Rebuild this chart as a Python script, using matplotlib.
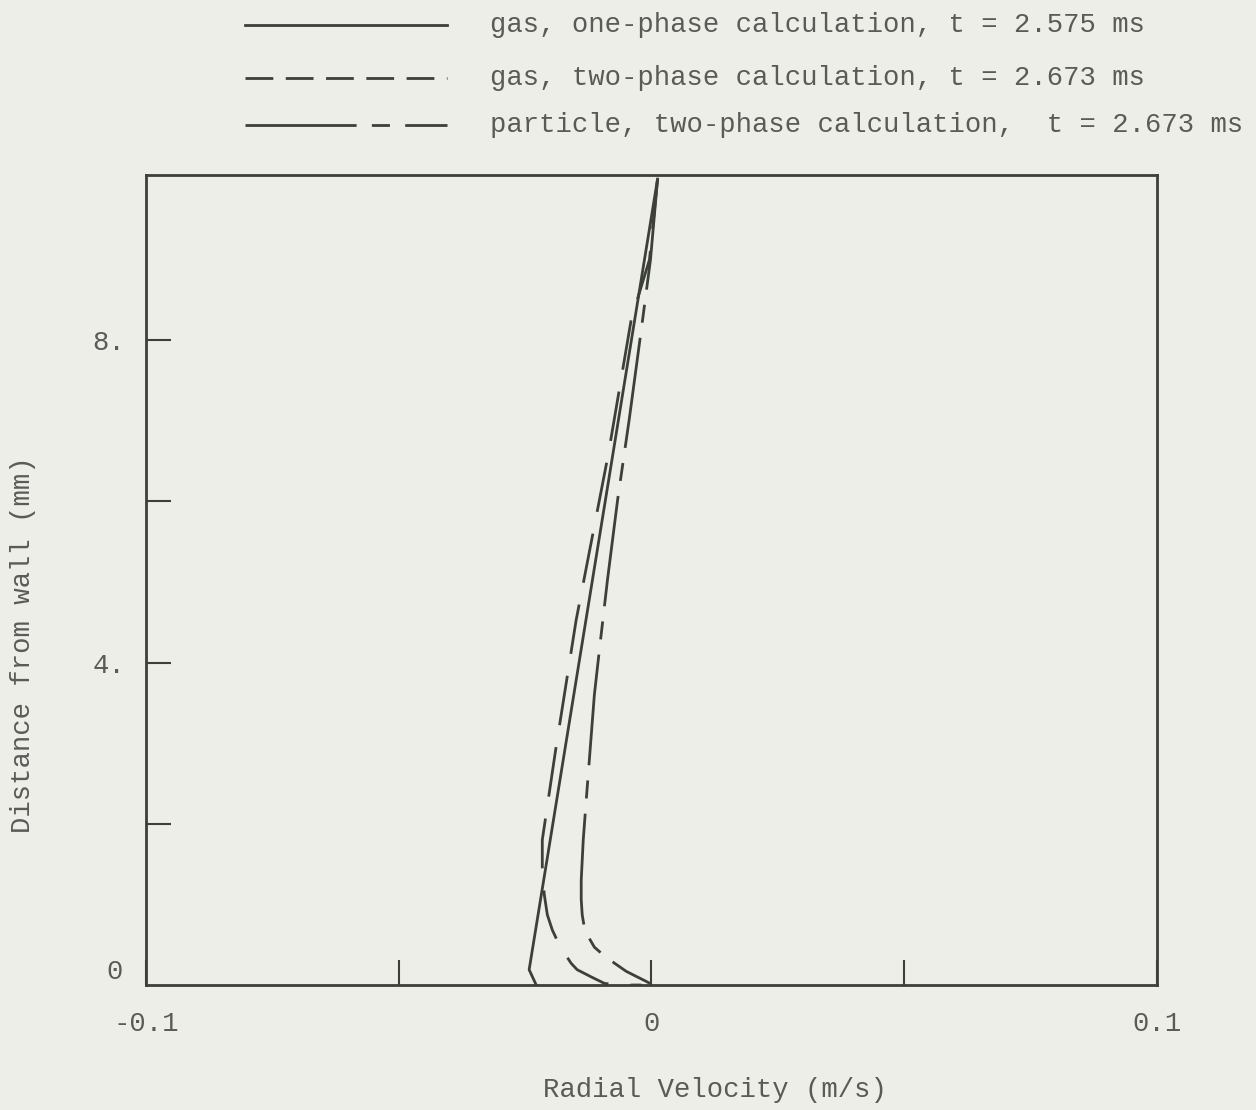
import numpy as np
import matplotlib
matplotlib.use("Agg")
import matplotlib.pyplot as plt
from matplotlib.lines import Line2D

# values (radial velocity m/s, distance from wall mm)
gas_one_v = [0.0012, -0.0242, -0.0228]
gas_one_y = [10.0, 0.19, 0.0]

gas_two_v = [0.0012, -0.0004, -0.0040, -0.0085, -0.0149, -0.0190, -0.0216, -0.0216,
             -0.0212, -0.0206, -0.0196, -0.0181, -0.0159, -0.0147, -0.0119, -0.0093,
             -0.0063, -0.0020]
gas_two_y = [10.0, 9.0, 8.26, 6.60, 4.53, 2.90, 1.80, 1.43,
             1.12, 0.87, 0.68, 0.48, 0.27, 0.19, 0.10, 0.02,
             0.0, 0.0]

part_v = [0.0012, -0.0002, -0.0020, -0.0044, -0.0067, -0.0087, -0.0103, -0.0113,
          -0.0129, -0.0135, -0.0139, -0.0139, -0.0137, -0.0133, -0.0125, -0.0113,
          -0.0093, -0.0073, -0.0050, -0.0028, -0.0012, 0.0]
part_y = [10.0, 9.0, 8.14, 7.02, 6.02, 5.03, 4.16, 3.60,
          2.30, 1.80, 1.30, 1.06, 0.87, 0.72, 0.60, 0.47,
          0.36, 0.27, 0.17, 0.10, 0.05, 0.01]

legend_labels = ["gas, one-phase calculation, t = 2.575 ms",
                 "gas, two-phase calculation, t = 2.673 ms",
                 "particle, two-phase calculation,  t = 2.673 ms"]

bg = "#edeee7"
ink = "#3c3f3a"
txt = "#5a5b58"
plt.rcParams["font.family"] = ["Liberation Mono", "DejaVu Sans Mono"]
plt.rcParams["font.size"] = 19.6
plt.rcParams["lines.scale_dashes"] = False

fig = plt.figure(figsize=(12.56, 11.10), dpi=100, facecolor=bg)
ax = fig.add_axes([0.1162, 0.1126, 0.805, 0.7297], facecolor=bg)

dash_gas = (0, (36, 16))
dash_part = (0, (80, 11, 13, 11))
lw = 2.0

ax.plot(gas_one_v, gas_one_y, color=ink, lw=lw)
ax.plot(gas_two_v, gas_two_y, color=ink, lw=lw, linestyle=dash_gas)
ax.plot(part_v, part_y, color=ink, lw=lw, linestyle=dash_part)

ax.set_xlim(-0.1, 0.1)
ax.set_ylim(0, 10.05)

ax.set_xticks([-0.1, 0, 0.1], ["-0.1", "0", "0.1"])
ax.set_xticks([-0.05, 0.05], minor=True)
ax.set_yticks([2, 4, 6, 8], ["", "4.", "", "8."])
ax.tick_params(axis="both", which="both", direction="in", length=18, width=1.5,
               color=ink, labelcolor=txt)
ax.tick_params(axis="x", pad=19)
ax.tick_params(axis="y", pad=15)
# the "0" on the y axis sits a little above the corner
ax.text(-0.1045, 0.16, "0", ha="right", va="center", color=txt)

for s in ax.spines.values():
    s.set_linewidth(2.0)
    s.set_color(ink)

xl = ax.set_xlabel("Radial Velocity (m/s)", color=txt)
yl = ax.set_ylabel("Distance from wall (mm)", color=txt)
ax.xaxis.set_label_coords(0.563, -0.13)
ax.yaxis.set_label_coords(-0.122, 0.42)
xl.set_verticalalignment("center")
yl.set_verticalalignment("center")

# legend drawn above the axes, in figure coordinates
styles = ["-", (0, (20, 9)), dash_part]
rows = [1 - 25 / 1110, 1 - 78 / 1110, 1 - 125 / 1110]
for style, yrow, label in zip(styles, rows, legend_labels):
    fig.add_artist(Line2D([245 / 1256, 447 / 1256], [yrow, yrow], color=ink, lw=lw,
                          linestyle=style, transform=fig.transFigure))
    fig.text(490 / 1256, yrow, label, color=txt, va="center", ha="left")

fig.savefig("out.png", dpi=100, facecolor=bg)
